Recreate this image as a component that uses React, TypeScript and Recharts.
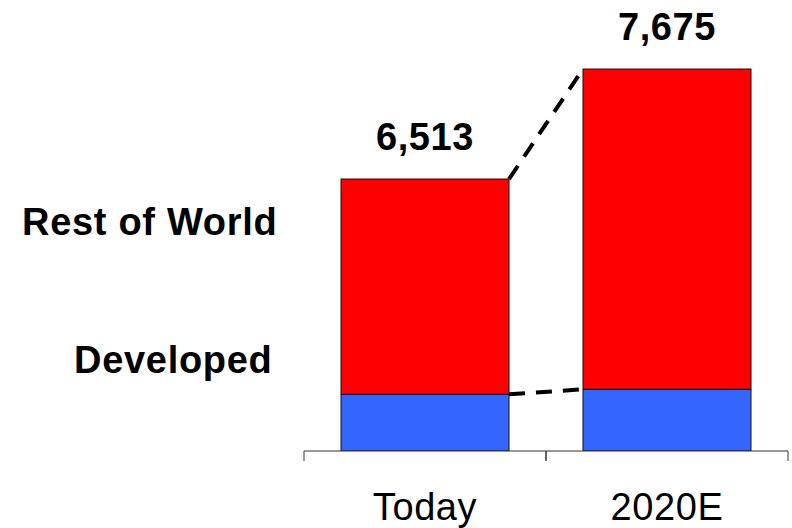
import React from 'react';
import { BarChart, Bar, XAxis, YAxis, LabelList } from 'recharts';

const categories = ['Today', '2020E'];
const totalValues = [6513, 7675];
const developedValues = [4239, 4292];
const seriesLabels = ['Rest of World', 'Developed'];
const yDomain: [number, number] = [3640, 8404];

const data = categories.map((name, i) => ({
  name,
  developed: developedValues[i],
  rest: totalValues[i] - developedValues[i],
  total: totalValues[i],
}));

const W = 792;
const H = 528;
const ML = 304;
const MR = 4;
const BAR = 168;
const FONT = '"Liberation Sans", Arial, Helvetica, sans-serif';
const band = (W - ML - MR) / categories.length;
const DASH = '16 11';

const RestShape = (props: any) => {
  const { x, y, width, height, index, fill } = props;
  const els: any[] = [
    <rect key="r" x={x} y={y} width={width} height={height} fill={fill} stroke="#111" strokeWidth={1} />,
  ];
  if (index > 0) {
    const cur = data[index];
    const prev = data[index - 1];
    const k = height / cur.rest;
    const prevRight = x - band + width;
    const yTopPrev = y + (cur.total - prev.total) * k;
    const yDevCur = y + height;
    const yDevPrev = yDevCur + (cur.developed - prev.developed) * k;
    els.push(
      <line key="t" x1={prevRight} y1={yTopPrev} x2={x} y2={y} stroke="#000" strokeWidth={4} strokeDasharray={DASH} />,
      <line key="b" x1={prevRight} y1={yDevPrev} x2={x} y2={yDevCur} stroke="#000" strokeWidth={4} strokeDasharray={DASH} />
    );
  }
  return <g>{els}</g>;
};

const AxisTick = (props: any) => {
  const { x, y, payload } = props;
  const off = band / 2;
  return (
    <g>
      <line x1={x - off} y1={y} x2={x - off} y2={y + 10} stroke="#333" strokeWidth={1} />
      <line x1={x + off} y1={y} x2={x + off} y2={y + 10} stroke="#333" strokeWidth={1} />
      <text x={x} y={y + 69} textAnchor="middle" fontSize={38} fontFamily={FONT} letterSpacing={0.6} fill="#000">
        {payload.value}
      </text>
    </g>
  );
};

export default function App() {
  return (
    <div style={{ position: 'absolute', left: 0, top: 0, width: W, height: H, background: '#fff' }}>
      <BarChart width={W} height={H} data={data} margin={{ top: 0, right: MR, bottom: 0, left: ML }}>
        <YAxis hide type="number" domain={yDomain} allowDataOverflow />
        <XAxis
          dataKey="name"
          type="category"
          height={77}
          axisLine={{ stroke: '#333', strokeWidth: 1 }}
          tickLine={false}
          tickSize={0}
          tickMargin={0}
          interval={0}
          tick={<AxisTick />}
        />
        <Bar dataKey="developed" stackId="a" fill="#3366FF" stroke="#111" strokeWidth={1} barSize={BAR} isAnimationActive={false} />
        <Bar dataKey="rest" stackId="a" fill="#FF0000" barSize={BAR} shape={<RestShape />} isAnimationActive={false}>
          <LabelList
            dataKey="total"
            position="top"
            offset={29}
            formatter={(v: any) => Number(v).toLocaleString('en-US')}
            fill="#000"
            fontSize={38}
            fontWeight="bold"
            fontFamily={FONT}
            letterSpacing={0.6}
          />
        </Bar>
      </BarChart>
      <svg width={W} height={H} style={{ position: 'absolute', left: 0, top: 0, pointerEvents: 'none' }}>
        <text x={22} y={235} fontSize={38} fontWeight="bold" fontFamily={FONT} letterSpacing={0.7} fill="#000">
          {seriesLabels[0]}
        </text>
        <text x={74} y={373} fontSize={38} fontWeight="bold" fontFamily={FONT} letterSpacing={0.7} fill="#000">
          {seriesLabels[1]}
        </text>
      </svg>
    </div>
  );
}
